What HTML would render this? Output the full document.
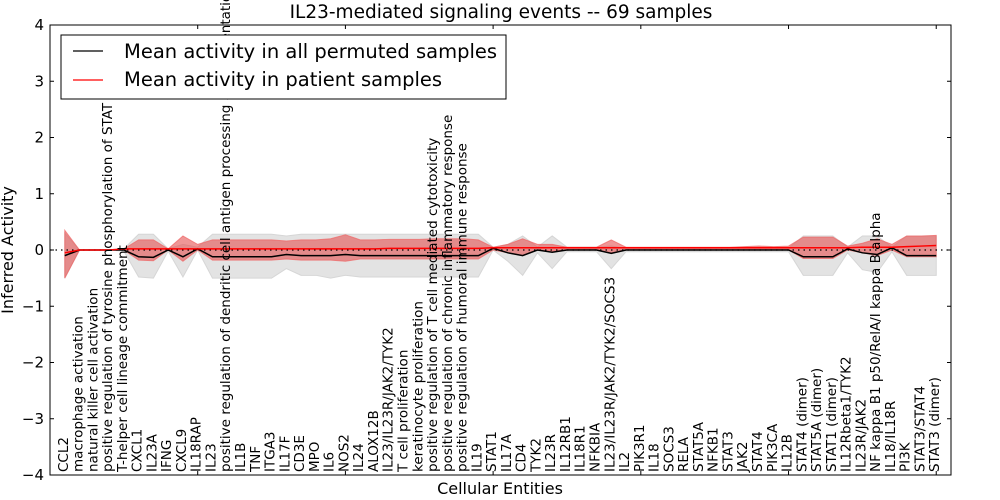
<!DOCTYPE html>
<html><head><meta charset="utf-8"><style>
html,body{margin:0;padding:0;background:#fff}
svg{display:block;font-family:"DejaVu Sans","Liberation Sans",sans-serif}
</style></head><body>
<svg id="chart" width="1000" height="500"></svg>
<script>
const categories=["CCL2","macrophage activation","natural killer cell activation","positive regulation of tyrosine phosphorylation of STAT protein","T-helper cell lineage commitment","CXCL1","IL23A","IFNG","CXCL9","IL18RAP","IL23","positive regulation of dendritic cell antigen processing and presentation","IL1B","TNF","ITGA3","IL17F","CD3E","MPO","IL6","NOS2","IL24","ALOX12B","IL23/IL23R/JAK2/TYK2","T cell proliferation","keratinocyte proliferation","positive regulation of T cell mediated cytotoxicity","positive regulation of chronic inflammatory response","positive regulation of humoral immune response","IL19","STAT1","IL17A","CD4","TYK2","IL23R","IL12RB1","IL18R1","NFKBIA","IL23/IL23R/JAK2/TYK2/SOCS3","IL2","PIK3R1","IL18","SOCS3","RELA","STAT5A","NFKB1","STAT3","JAK2","STAT4","PIK3CA","IL12B","STAT4 (dimer)","STAT5A (dimer)","STAT1 (dimer)","IL12Rbeta1/TYK2","IL23R/JAK2","NF kappa B1 p50/RelA/I kappa B alpha","IL18/IL18R","PI3K","STAT3/STAT4","STAT3 (dimer)"];
const permMean=[-0.1,0,0,0,0,-0.12,-0.13,0,-0.12,0.02,-0.12,-0.12,-0.12,-0.12,-0.12,-0.08,-0.1,-0.1,-0.1,-0.08,-0.1,-0.1,-0.1,-0.1,-0.1,-0.1,-0.1,-0.1,-0.1,0.03,-0.05,-0.1,0,-0.04,0,0,0,-0.06,0,0,0,0,0,0,0,0,0,0,0,0,-0.12,-0.12,-0.12,0.02,-0.05,-0.08,0.04,-0.1,-0.1,-0.1];
const permUpper=[0.3,0,0,0,0.02,0.28,0.28,0.02,0.1,0.05,0.28,0.28,0.28,0.28,0.28,0.25,0.28,0.28,0.28,0.28,0.28,0.28,0.28,0.28,0.28,0.28,0.28,0.28,0.28,0.05,0.1,0.25,0.05,0.25,0.05,0.05,0.05,0.07,0.03,0.03,0.03,0.03,0.03,0.03,0.03,0.03,0.03,0.03,0.03,0.03,0.25,0.25,0.25,0.05,0.25,0.25,0.05,0.25,0.25,0.25];
const permLower=[-0.5,0,0,0,-0.02,-0.48,-0.5,-0.02,-0.48,0,-0.5,-0.5,-0.5,-0.5,-0.5,-0.33,-0.45,-0.45,-0.5,-0.45,-0.48,-0.48,-0.48,-0.48,-0.48,-0.48,-0.48,-0.48,-0.48,0,-0.2,-0.45,-0.05,-0.33,-0.03,-0.03,-0.03,-0.33,-0.03,-0.03,-0.03,-0.03,-0.03,-0.03,-0.03,-0.03,-0.03,-0.03,-0.03,-0.03,-0.45,-0.45,-0.45,-0.05,-0.35,-0.4,-0.03,-0.45,-0.45,-0.45];
const patMean=[-0.05,0,0,0,0.02,0.02,0.02,0.02,0.02,0.02,0.02,0.02,0.02,0.02,0.02,0.02,0.02,0.02,0.02,0.02,0.02,0.02,0.03,0.03,0.03,0.03,0.03,0.03,0.03,0.04,0.04,0.04,0.04,0.04,0.04,0.04,0.04,0.04,0.04,0.04,0.04,0.04,0.04,0.04,0.04,0.04,0.04,0.04,0.04,0.04,0.04,0.04,0.04,0.04,0.05,0.05,0.05,0.06,0.07,0.08];
const patUpper=[0.35,0,0,0,0.02,0.18,0.18,0.02,0.25,0.1,0.18,0.18,0.18,0.18,0.18,0.16,0.18,0.18,0.2,0.27,0.18,0.18,0.19,0.19,0.19,0.2,0.2,0.2,0.18,0.05,0.1,0.2,0.1,0.1,0.05,0.05,0.05,0.18,0.05,0.05,0.05,0.05,0.05,0.05,0.05,0.05,0.06,0.07,0.06,0.07,0.23,0.23,0.23,0.07,0.12,0.2,0.1,0.25,0.25,0.26];
const patLower=[-0.5,0,0,0,0,-0.18,-0.19,0,-0.2,0,-0.18,-0.18,-0.18,-0.18,-0.18,-0.16,-0.18,-0.18,-0.18,-0.2,-0.16,-0.16,-0.16,-0.16,-0.16,-0.16,-0.16,-0.16,-0.16,0,-0.05,-0.1,0,-0.02,0,0,0,-0.05,0,0,0,0,0,0,0,0,0,0,0,0,-0.15,-0.15,-0.15,0,-0.05,-0.1,0,-0.12,-0.12,-0.12];
const yTicks=[4,3,2,1,0,-1,-2,-3,-4];
const xTicks=[0,10,20,30,40,50,60];

const NS="http://www.w3.org/2000/svg";
const svg=document.getElementById("chart");
const L=50,R=951,T=25,B=475,XMAX=61;
const sx=v=>L+(v/XMAX)*(R-L);
const sy=v=>T+(4-v)/8*(B-T);
function mk(tag,attrs,parent){const e=document.createElementNS(NS,tag);for(const k in attrs)e.setAttribute(k,attrs[k]);(parent||svg).appendChild(e);return e;}
function bandPath(up,lo){let d="";up.forEach((v,i)=>{d+=(i?"L":"M")+sx(i+1)+","+sy(v);});for(let i=lo.length-1;i>=0;i--)d+="L"+sx(i+1)+","+sy(lo[i]);return d+"Z";}
function linePath(a){return a.map((v,i)=>(i?"L":"M")+sx(i+1)+","+sy(v)).join("");}

let e;
e=mk("path",{d:bandPath(permUpper,permLower),fill:"#e3e3e3",stroke:"#d6d6d6","stroke-width":1});


e=mk("path",{d:bandPath(patUpper,patLower),fill:"rgba(228,80,80,0.6)",stroke:"rgba(240,100,100,0.7)","stroke-width":1});


e=mk("line",{x1:L,x2:R,y1:sy(0),y2:sy(0),stroke:"#000","stroke-dasharray":"1.5,4","stroke-width":1.2});


e=mk("path",{d:linePath(permMean),fill:"none",stroke:"#000","stroke-width":1.5});


e=mk("path",{d:linePath(patMean),fill:"none",stroke:"#ff0000","stroke-width":1.5});



e=mk("rect",{x:L,y:T,width:R-L,height:B-T,fill:"none",stroke:"#000","stroke-width":1});



yTicks.forEach(v=>{
  const y=sy(v);
  mk("line",{x1:L,x2:L+4,y1:y,y2:y,stroke:"#000"});
  mk("line",{x1:R-4,x2:R,y1:y,y2:y,stroke:"#000"});
  const t=mk("text",{x:L-6,y:y+5,"text-anchor":"end","font-size":15});
  t.textContent=v<0?"\u2212"+(-v):String(v);
  
  
});
xTicks.forEach(v=>{
  const x=sx(v);
  mk("line",{x1:x,x2:x,y1:T,y2:T+4,stroke:"#000"});
  mk("line",{x1:x,x2:x,y1:B-4,y2:B,stroke:"#000"});
});
categories.forEach((c,i)=>{
  const x=sx(i+1)+3,y=472;
  const t=mk("text",{x:x,y:y,transform:`rotate(-90 ${x} ${y})`,"font-size":13.5});
  t.textContent=c;
  
  
});

e=mk("text",{x:501,y:18,"text-anchor":"middle","font-size":18.5});
e.textContent="IL23-mediated signaling events -- 69 samples";


e=mk("text",{x:500,y:494,"text-anchor":"middle","font-size":16});
e.textContent="Cellular Entities";


e=mk("text",{x:13,y:250,"text-anchor":"middle","font-size":16,transform:"rotate(-90 13 250)"});
e.textContent="Inferred Activity";



const lg=mk("g",{});


mk("rect",{x:61,y:35,width:445,height:64,fill:"#fff",stroke:"#000","stroke-width":1},lg);
mk("line",{x1:73,x2:103,y1:51,y2:51,stroke:"#000","stroke-width":1.2},lg);
mk("line",{x1:73,x2:103,y1:80,y2:80,stroke:"#ff0000","stroke-width":1.2},lg);
e=mk("text",{x:124,y:58,"font-size":19.5},lg);
e.textContent="Mean activity in all permuted samples";


e=mk("text",{x:124,y:86,"font-size":19.5},lg);
e.textContent="Mean activity in patient samples";


</script>
</body></html>
